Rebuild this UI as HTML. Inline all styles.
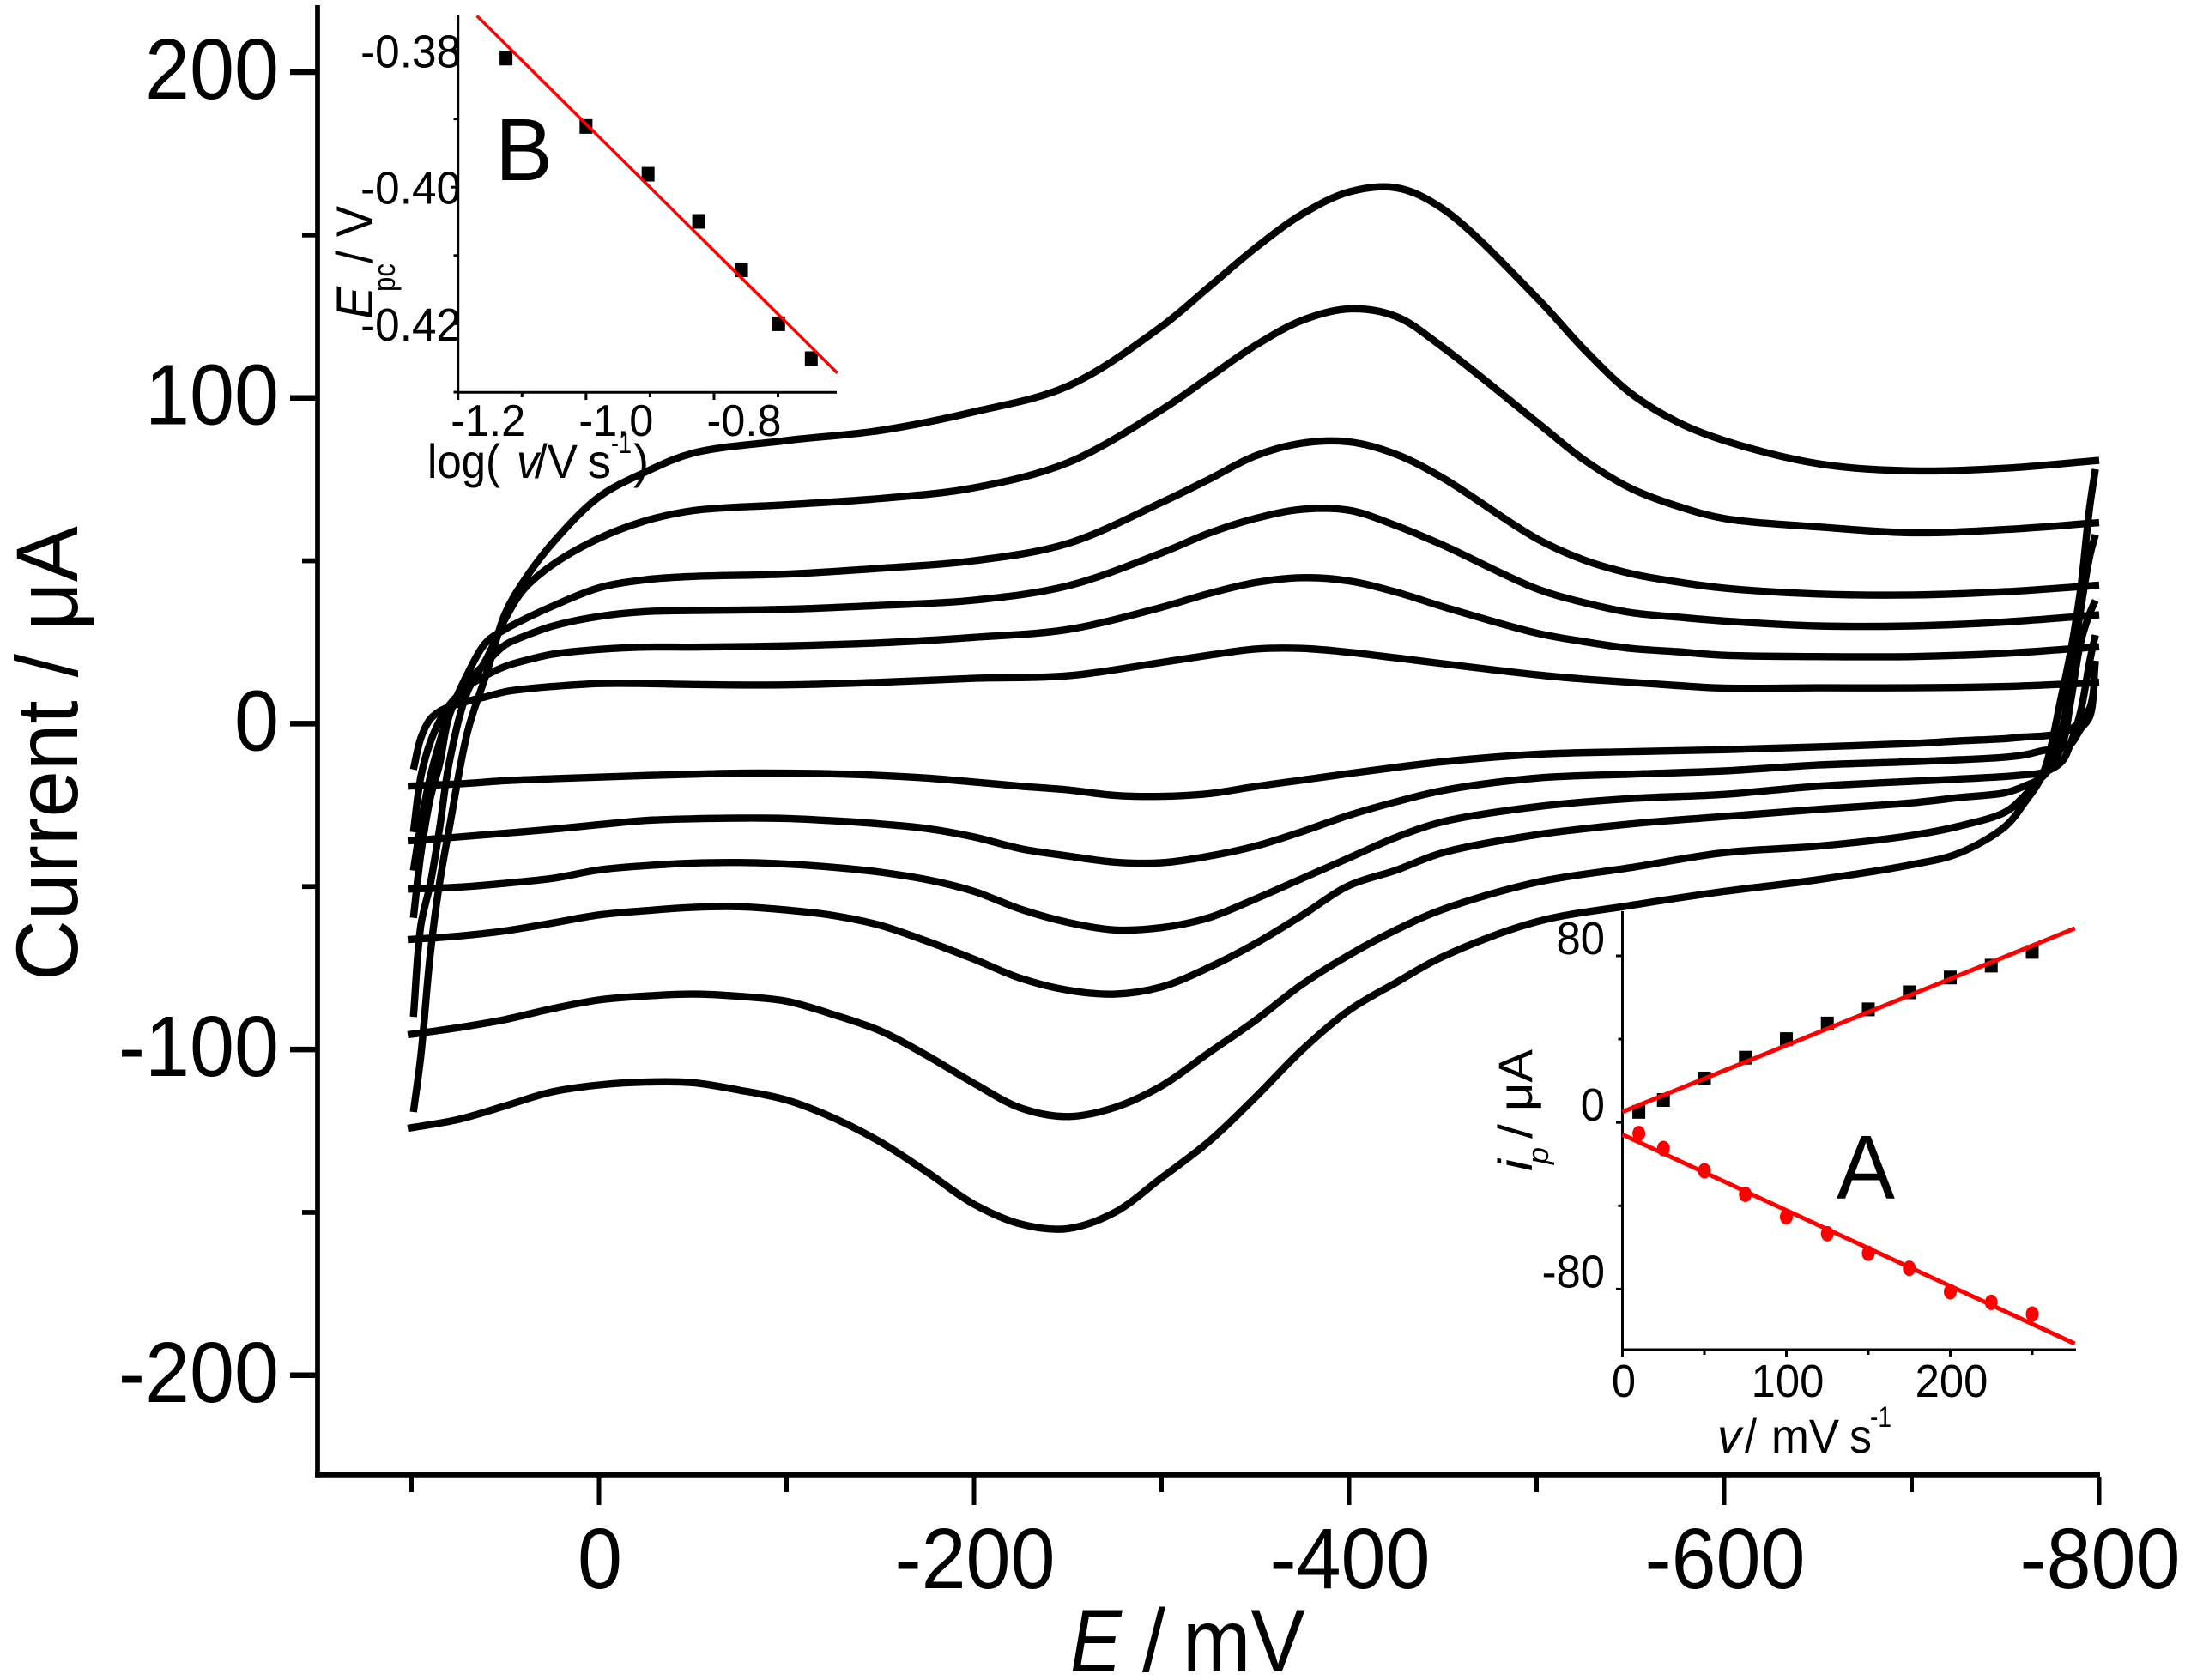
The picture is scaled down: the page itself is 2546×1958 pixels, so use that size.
<!DOCTYPE html>
<html lang="en">
<head>
<meta charset="utf-8">
<title>Cyclic voltammograms</title>
<style>
html,body{margin:0;padding:0;background:#fff}
svg{display:block}
text{font-family:"Liberation Sans",Arial,sans-serif;fill:#000}
</style>
</head>
<body>
<svg id="chart" xmlns="http://www.w3.org/2000/svg" width="2546" height="1958" viewBox="0 0 2546 1958">
  <rect width="2546" height="1958" fill="#fff"/>
  <g id="curves"></g>
  <g id="mainAxes"></g>
  <g id="insetB"></g>
  <g id="insetA"></g>

  <text transform="translate(90,1143) rotate(-90)" font-size="102" textLength="530" lengthAdjust="spacingAndGlyphs">Current / μA</text>
  <g font-size="104">
    <text x="1247" y="1948" font-style="italic" textLength="60" lengthAdjust="spacingAndGlyphs">E</text>
    <text x="1331" y="1948" textLength="27" lengthAdjust="spacingAndGlyphs">/</text>
    <text x="1378" y="1948" textLength="143" lengthAdjust="spacingAndGlyphs">mV</text>
  </g>

  <text x="577" y="210" font-size="103" textLength="67" lengthAdjust="spacingAndGlyphs">B</text>
  <g font-size="56">
    <text x="498" y="557" textLength="85" lengthAdjust="spacingAndGlyphs">log(</text>
    <text x="602" y="557" font-style="italic" textLength="26" lengthAdjust="spacingAndGlyphs">v</text>
    <text x="623" y="557" textLength="50" lengthAdjust="spacingAndGlyphs">/V</text>
    <text x="685" y="557" textLength="27" lengthAdjust="spacingAndGlyphs">s</text>
    <text x="712" y="528" font-size="34" textLength="24" lengthAdjust="spacingAndGlyphs">-1</text>
    <text x="738" y="557" textLength="18" lengthAdjust="spacingAndGlyphs">)</text>
  </g>
  <g font-size="60">
    <text transform="translate(434,372) rotate(-90)" font-style="italic" textLength="38" lengthAdjust="spacingAndGlyphs">E</text>
    <text transform="translate(460,340) rotate(-90)" font-size="36" textLength="33" lengthAdjust="spacingAndGlyphs">pc</text>
    <text transform="translate(434,307) rotate(-90)" textLength="15" lengthAdjust="spacingAndGlyphs">/</text>
    <text transform="translate(434,276) rotate(-90)" textLength="36" lengthAdjust="spacingAndGlyphs">V</text>
  </g>

  <text x="2174" y="1397" font-size="106" text-anchor="middle" textLength="68" lengthAdjust="spacingAndGlyphs">A</text>
  <g font-size="56">
    <text x="2001" y="1693" font-style="italic" textLength="28" lengthAdjust="spacingAndGlyphs">v</text>
    <text x="2033" y="1693" textLength="14" lengthAdjust="spacingAndGlyphs">/</text>
    <text x="2064" y="1693" textLength="79" lengthAdjust="spacingAndGlyphs">mV</text>
    <text x="2155" y="1693" textLength="26" lengthAdjust="spacingAndGlyphs">s</text>
    <text x="2179" y="1663" font-size="34" textLength="25" lengthAdjust="spacingAndGlyphs">-1</text>
  </g>
  <g font-size="56">
    <text transform="translate(1785,1365) rotate(-90)" font-style="italic" textLength="14" lengthAdjust="spacingAndGlyphs">i</text>
    <text transform="translate(1804,1357) rotate(-90)" font-size="34" font-style="italic" textLength="20" lengthAdjust="spacingAndGlyphs">p</text>
    <text transform="translate(1785,1327) rotate(-90)" textLength="17" lengthAdjust="spacingAndGlyphs">/</text>
    <text transform="translate(1785,1295) rotate(-90)" textLength="72" lengthAdjust="spacingAndGlyphs">μA</text>
  </g>
</svg>

<script>
// ===== Main chart data (potential in mV, current in µA) =====
const upperPotentials = [-800,-750,-700,-650,-600,-575,-550,-525,-500,-450,-425,-400,-375,-350,-325,-300,-250,-200,-150,-100,-50,-25,0,25,40,50,60,70,80,85,90,95,99];
const upper1 = [80.8,78.4,77.6,79.8,86.9,92.6,101.5,115.1,130.8,158,164.5,163.2,156.4,146,133.9,121.9,103.6,95.7,90,86.9,83,77.3,69.6,55.3,43.9,33.9,15.4,-2.3,-32.5,-48.7,-70.7,-101.8,-119.2];
const upper2 = [61.7,59.6,58.6,60.4,63,66.8,72.3,81.1,92.6,115.5,125,127.3,123.8,116.1,106.2,96.3,80.1,72.4,69.1,67.2,65.4,62.3,56.9,48.7,41.3,32.2,19.9,10,-12.3,-32,-49.2,-61.8,-90];
const upper3 = [42.5,40.5,39.5,39.8,41.6,43.5,46.1,50.3,56.8,75.4,82.7,86.5,86.1,82.2,74.9,67.9,55.3,50,47.7,45.9,45.2,44.2,41.7,36,32,29,25.1,15.4,2.2,-12.3,-22.8,-39.9,-59.6];
const upper4 = [33.4,31.2,30,30,31.5,32.7,34.1,37.2,41.4,54.8,60.8,65.5,65.8,63,58.4,52.4,42.3,37.9,36.3,35.1,34.7,34.4,32.9,29.9,26.8,24.2,18.8,12.7,3,-5.7,-16.2,-30.7,-45.1];
const upper5 = [23.6,21.6,20.6,20.6,21,22.1,23.1,25.2,27.8,35.9,40.4,43.8,44.8,43.3,39.9,35.7,28.9,26.5,24.8,23.9,23.5,23.5,22.8,21.3,19.3,17.6,14.9,11.4,5.6,0.9,-5.7,-16.2,-33.3];
const upper6 = [12.6,11.4,11,11,10.9,11.7,12.7,13.7,15,18.4,20.2,21.9,23.1,22.9,21,18.8,14.7,13.9,12.7,11.9,12,12.3,12.3,11.4,10.6,9.8,8.3,6.9,5.1,3.8,1.4,-4.4,-14.1];

const lowerPotentials = [102,75,50,25,0,-25,-50,-75,-100,-125,-150,-175,-200,-225,-250,-275,-300,-325,-350,-375,-400,-425,-450,-500,-550,-600,-650,-700,-725,-750,-760,-770,-780,-785,-790,-795,-798];
const lower1 = [-124.2,-121.5,-117.3,-113,-110.9,-110,-110.2,-112.5,-115.5,-121,-128.4,-137.7,-147.5,-153.6,-155,-150,-139.4,-128.4,-114.7,-100.1,-88,-79.5,-71.5,-60.8,-55.8,-51.5,-47.9,-43.3,-39.8,-31.5,-24.4,-15.4,8.8,22.8,40.9,66.8,78.1];
const lower2 = [-95.5,-93.3,-90.8,-87.5,-84.8,-83.6,-83,-83.7,-85.2,-89.3,-94.3,-101.9,-110.4,-118,-120.6,-117.8,-111.2,-101.1,-91.1,-80,-71,-63.3,-57,-48.7,-44.2,-39.6,-37.6,-34.3,-31.5,-27.1,-22.2,-15.2,-2,16.7,34.6,51.5,58];
const lower3 = [-66.3,-65.2,-63.6,-61.2,-58.7,-57.4,-56.4,-56.2,-57.2,-58.9,-61.9,-66.8,-72.3,-78.2,-81.8,-83,-80.8,-74.9,-67.5,-58.8,-49.7,-45,-39.6,-34.1,-30.8,-28.5,-26.3,-24.3,-22.7,-21.2,-19.2,-16.2,-7,7.5,24.7,33.9,37.8];
const lower4 = [-50.8,-50.2,-49,-47.5,-44.9,-43.6,-42.8,-42.6,-43.1,-44.1,-45.6,-47.9,-51.5,-57,-61,-63.3,-62.6,-59.6,-53.8,-47.5,-41.2,-34.9,-30.1,-25.5,-23,-21.7,-19.2,-17.7,-17,-16.2,-15.7,-15,-11.7,-5.7,3.5,19.3,27.2];
const lower5 = [-36,-34.8,-33.6,-32.4,-31,-29.7,-29.2,-29,-29.1,-29.8,-30.8,-32.2,-34.8,-38.4,-40.6,-42.5,-42.7,-40.7,-37.6,-33.1,-28.1,-24,-20.5,-16.7,-15.5,-14.5,-12.7,-11.7,-11.1,-10.3,-9.6,-8.3,-7.5,-6.2,-1.7,2.2,19.3];
const lower6 = [-19.2,-18.5,-17.5,-16.9,-16.4,-15.9,-15.5,-15.2,-15.2,-15.4,-15.9,-16.7,-17.9,-19.2,-20.3,-22,-22.3,-21.5,-19.3,-17.3,-15.3,-13.4,-11.7,-9.4,-8.6,-8,-7.1,-6.1,-5.3,-4.6,-4.1,-3.8,-3,-1.7,0.9,4.8,14];

const mainXMajorTicks = [0,-200,-400,-600,-800];
const mainXMinorTicks = [100,-100,-300,-500,-700];
const mainYMajorTicks = [200,100,0,-100,-200];
const mainYMinorTicks = [150,50,-50,-150];

// ===== Inset A data: peak current vs scan rate =====
const scanRates = [10,25,50,75,100,125,150,175,200,225,250];
const anodicPeaks = [5.1,10.8,21.1,31.1,40,47.5,54.3,62.5,69.6,75.3,81.9];
const cathodicPeaks = [-5.3,-12.5,-23.2,-34.5,-45.3,-53.4,-62.8,-70,-81.3,-86.4,-92];
const fitRates = [0,276];
const anodicFit = [5.1,93.2];
const cathodicFit = [-5.8,-106.2];
const insetAXMajorTicks = [0,100,200];
const insetAXMinorTicks = [50,150,250];
const insetAYMajorTicks = [80,0,-80];
const insetAYMinorTicks = [40,-40];

// ===== Inset B data: peak potential vs log scan rate =====
const logScanRates = [-1.125,-1,-0.903,-0.824,-0.757,-0.699,-0.648];
const peakPotentials = [-0.3811,-0.3911,-0.3981,-0.405,-0.4121,-0.42,-0.4251];
const fitLogRates = [-1.1706,-0.6072];
const fitPotentials = [-0.3749,-0.4272];
const insetBXMajorTicks = [-1.2,-1,-0.8];
const insetBXMinorTicks = [-1.1,-0.9,-0.7];
const insetBXLabels = ['-1.2','-1.0','-0.8'];
const insetBYMajorTicks = [-0.38,-0.4,-0.42];
const insetBYMinorTicks = [-0.39,-0.41,-0.43];
const insetBYLabels = ['-0.38','-0.40','-0.42'];

// ===== Axis functions =====
const xMain = e => 698 - 2.185 * e;
const yMain = i => 843.4 - 3.797 * i;
const xA = v => 1890.5 + 1.91 * v;
const yA = i => 1308.2 - 2.4275 * i;
const xB = l => 533.7 + 745.7 * (l + 1.2);
const yB = p => 59 - 7960 * (p + 0.38);

const SVGNS = 'http://www.w3.org/2000/svg';
function make(parent, tag, attrs) {
  const el = document.createElementNS(SVGNS, tag);
  for (const k in attrs) el.setAttribute(k, attrs[k]);
  parent.appendChild(el);
  return el;
}
function line(parent, name, x1, y1, x2, y2, w, color) {
  const el = make(parent, 'line', {x1, y1, x2, y2, stroke: color || '#000', 'stroke-width': w});
  
  
  return el;
}
function label(parent, name, str, x, y, size, anchor, squeeze) {
  const el = make(parent, 'text', {x, y, 'font-size': size, 'text-anchor': anchor});
  el.textContent = str;
  
  
  const w = el.getComputedTextLength();
  el.setAttribute('textLength', (w * squeeze).toFixed(1));
  el.setAttribute('lengthAdjust', 'spacingAndGlyphs');
  return el;
}
// Centripetal Catmull-Rom through the read points
function smooth(pts) {
  const n = pts.length;
  const dist = (a, b) => Math.max(Math.pow(Math.hypot(a[0] - b[0], a[1] - b[1]), 0.5), 1e-3);
  const slope = (i, axis) => {
    if (i === 0) return (pts[1][axis] - pts[0][axis]) / dist(pts[0], pts[1]);
    if (i === n - 1) return (pts[n - 1][axis] - pts[n - 2][axis]) / dist(pts[n - 2], pts[n - 1]);
    const d0 = dist(pts[i - 1], pts[i]), d1 = dist(pts[i], pts[i + 1]);
    return (pts[i + 1][axis] - pts[i][axis]) / d1 - (pts[i + 1][axis] - pts[i - 1][axis]) / (d0 + d1) + (pts[i][axis] - pts[i - 1][axis]) / d0;
  };
  let d = 'M' + pts[0][0].toFixed(1) + ' ' + pts[0][1].toFixed(1);
  for (let i = 0; i < n - 1; i++) {
    const h = dist(pts[i], pts[i + 1]);
    const c1x = pts[i][0] + slope(i, 0) * h / 3, c1y = pts[i][1] + slope(i, 1) * h / 3;
    const c2x = pts[i + 1][0] - slope(i + 1, 0) * h / 3, c2y = pts[i + 1][1] - slope(i + 1, 1) * h / 3;
    d += 'C' + c1x.toFixed(1) + ' ' + c1y.toFixed(1) + ' ' + c2x.toFixed(1) + ' ' + c2y.toFixed(1) + ' ' + pts[i + 1][0].toFixed(1) + ' ' + pts[i + 1][1].toFixed(1);
  }
  return d;
}

// ===== CV curves =====
const curvesG = document.getElementById('curves');
function drawBranch(potentials, values, name) {
  const pts = potentials.map((e, i) => [xMain(e), yMain(values[i])]);
  const el = make(curvesG, 'path', {d: smooth(pts), fill: 'none', stroke: '#000', 'stroke-width': 8.4, 'stroke-linejoin': 'round', 'stroke-linecap': 'butt'});
  
  
}
[upper1, upper2, upper3, upper4, upper5, upper6].forEach((v, i) => drawBranch(upperPotentials, v, 'cv-upper-branch-' + (i + 1)));
[lower1, lower2, lower3, lower4, lower5, lower6].forEach((v, i) => drawBranch(lowerPotentials, v, 'cv-lower-branch-' + (i + 1)));

// ===== Main axes =====
const axG = document.getElementById('mainAxes');
line(axG, 'y-axis-line', 370, 6, 370, 1721.7, 5.7);
line(axG, 'x-axis-line', 367, 1718.4, xMain(-800) + 1, 1718.4, 6.6);
mainXMajorTicks.forEach(t => {
  line(axG, 'x-major-tick', xMain(t), 1721, xMain(t), 1754, 5);
  label(axG, 'x-tick-label', String(t), xMain(t) + 1, 1851, 100, 'middle', 0.935);
});
mainXMinorTicks.forEach(t => line(axG, 'x-minor-tick', xMain(t), 1721, xMain(t), 1739, 5));
mainYMajorTicks.forEach(t => {
  line(axG, 'y-major-tick', 338, yMain(t), 368, yMain(t), 6.5);
  label(axG, 'y-tick-label', String(t), 325, yMain(t) + 31, 100, 'end', 0.935);
});
mainYMinorTicks.forEach(t => line(axG, 'y-minor-tick', 352, yMain(t), 368, yMain(t), 5.7));

// ===== Inset B =====
const bG = document.getElementById('insetB');
insetBYMajorTicks.forEach((t, i) => {
  label(bG, 'inset-b-y-tick-label', insetBYLabels[i], 537, yB(t) + 19.5, 54, 'end', 0.95);
  line(bG, 'inset-b-y-major-tick', 525, yB(t), 534, yB(t), 3);
});
insetBYMinorTicks.forEach(t => line(bG, 'inset-b-y-minor-tick', 528.5, yB(t), 534, yB(t), 3));
line(bG, 'inset-b-y-axis', 533.7, 17, 533.7, 458.5, 3);
line(bG, 'inset-b-x-axis', 532, 457.3, 975, 457.3, 3);
insetBXMajorTicks.forEach((t, i) => {
  line(bG, 'inset-b-x-major-tick', xB(t), 457, xB(t), 466, 3);
  label(bG, 'inset-b-x-tick-label', insetBXLabels[i], xB(t) + 35, 508, 52, 'middle', 0.97);
});
insetBXMinorTicks.forEach(t => line(bG, 'inset-b-x-minor-tick', xB(t), 457, xB(t), 463, 3));
logScanRates.forEach((l, i) => {
  const el = make(bG, 'rect', {x: xB(l) - 7.5, y: yB(peakPotentials[i]) - 8.5, width: 15, height: 17, fill: '#000'});
  
  
});
line(bG, 'inset-b-fit-line', xB(fitLogRates[0]), yB(fitPotentials[0]), xB(fitLogRates[1]), yB(fitPotentials[1]), 3.5, '#f00');

// ===== Inset A =====
const aG = document.getElementById('insetA');
line(aG, 'inset-a-y-axis', 1890.5, 1062, 1890.5, 1574.5, 3);
line(aG, 'inset-a-x-axis', 1889, 1573, 2419, 1573, 3);
insetAXMajorTicks.forEach(t => {
  line(aG, 'inset-a-x-major-tick', xA(t), 1573, xA(t), 1581, 3);
  label(aG, 'inset-a-x-tick-label', String(t), xA(t) + 1.5, 1628, 54, 'middle', 0.94);
});
insetAXMinorTicks.forEach(t => line(aG, 'inset-a-x-minor-tick', xA(t), 1573, xA(t), 1579, 3));
insetAYMajorTicks.forEach(t => {
  line(aG, 'inset-a-y-major-tick', 1883, yA(t), 1890, yA(t), 3);
  label(aG, 'inset-a-y-tick-label', String(t), 1870, yA(t) - 2, 54, 'end', 0.94);
});
insetAYMinorTicks.forEach(t => line(aG, 'inset-a-y-minor-tick', 1885.5, yA(t), 1890, yA(t), 3));
scanRates.forEach((v, i) => {
  const sq = make(aG, 'rect', {x: xA(v) - 7.5, y: yA(anodicPeaks[i]) - 8, width: 15, height: 16, fill: '#000'});
  
  
});
scanRates.forEach((v, i) => {
  const c = make(aG, 'ellipse', {cx: xA(v), cy: yA(cathodicPeaks[i]), rx: 7.5, ry: 9, fill: '#f00'});
  
  
});
line(aG, 'inset-a-anodic-fit', xA(fitRates[0]), yA(anodicFit[0]), xA(fitRates[1]), yA(anodicFit[1]), 5, '#f00');
line(aG, 'inset-a-cathodic-fit', xA(fitRates[0]), yA(cathodicFit[0]), xA(fitRates[1]), yA(cathodicFit[1]), 5, '#f00');
</script>
</body>
</html>
